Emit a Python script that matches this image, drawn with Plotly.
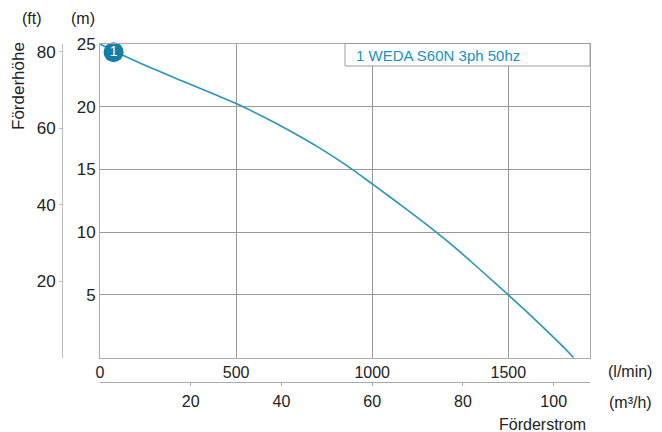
import plotly.graph_objects as go

# ---- data ----
flow_lpm = [0, 100, 200, 300, 400, 500, 600, 700, 800, 900, 1000, 1100, 1200,
            1300, 1400, 1500, 1600, 1700, 1740]
head_m = [25.0, 23.95, 22.98, 22.07, 21.18, 20.25, 19.2, 18.05, 16.8, 15.4, 13.85,
          12.25, 10.6, 8.85, 6.95, 5.0, 3.0, 0.9, 0.0]
marker_flow = [50]
marker_head = [24.35]
marker_label = ["1"]
series_name = "1 WEDA S60N 3ph 50hz"

x_ticks_lpm = [0, 500, 1000, 1500]
y_ticks_m = [5, 10, 15, 20, 25]
y_ticks_ft = [20, 40, 60, 80]
x_ticks_m3h = [20, 40, 60, 80, 100]

X_MAX_LPM = 1800
Y_MAX_M = 25
LPM_TO_M3H = 0.06
M_TO_FT = 3.28084

# ---- layout geometry ----
W, H = 662, 432
ML, MR, MT, MB = 62, 72, 44, 50
PW, PH = W - ML - MR, H - MT - MB


def px(x):
    return (x - ML) / PW


def py(y):
    return (H - MB - y) / PH


FONT = "Liberation Sans, Arial, Helvetica, sans-serif"
TXT = "#222222"
GRID = "#9a9a9a"
FRAME = "#aaaaaa"
LINE_C = "#2a94bd"
MARK_C = "#137ea6"

fig = go.Figure()
fig.add_trace(go.Scatter(x=flow_lpm, y=head_m, mode="lines", line_shape="spline",
                         line=dict(color=LINE_C, width=1.6, smoothing=1.0),
                         name=series_name, hoverinfo="skip", showlegend=False))
fig.add_trace(go.Scatter(x=marker_flow, y=marker_head, mode="markers+text",
                         text=marker_label, textposition="middle center",
                         textfont=dict(color="white", size=14, family=FONT),
                         marker=dict(size=20, color=MARK_C), cliponaxis=False,
                         hoverinfo="skip", showlegend=False))
# secondary axes carriers (converted units, invisible)
fig.add_trace(go.Scatter(x=[v * LPM_TO_M3H for v in flow_lpm],
                         y=[v * M_TO_FT for v in head_m],
                         xaxis="x2", yaxis="y2", mode="lines",
                         line=dict(width=0, color="rgba(0,0,0,0)"),
                         hoverinfo="skip", showlegend=False))

dom_x = [px(100), 1]
dom_y = [py(357.7), 1]

fig.update_layout(
    width=W, height=H,
    margin=dict(l=ML, r=MR, t=MT, b=MB, pad=0),
    paper_bgcolor="white", plot_bgcolor="white",
    font=dict(family=FONT, color=TXT, size=16),
    xaxis=dict(domain=dom_x, range=[0, X_MAX_LPM], tickvals=x_ticks_lpm,
               showgrid=True, gridcolor=GRID, gridwidth=1,
               showline=True, mirror=True, linecolor=FRAME, linewidth=1,
               ticks="", zeroline=False, anchor="y",
               tickfont=dict(size=16, color=TXT), fixedrange=True),
    yaxis=dict(domain=dom_y, range=[0, Y_MAX_M], tickvals=y_ticks_m,
               showgrid=True, gridcolor=GRID, gridwidth=1,
               showline=True, mirror=True, linecolor=FRAME, linewidth=1,
               ticks="", zeroline=False, anchor="x",
               tickfont=dict(size=17, color=TXT), fixedrange=True),
    xaxis2=dict(overlaying="x", anchor="free", position=0, side="bottom",
                range=[0, X_MAX_LPM * LPM_TO_M3H], tickvals=x_ticks_m3h,
                showgrid=False, zeroline=False, showline=True,
                linecolor=FRAME, linewidth=1, ticks="outside", ticklen=3,
                tickcolor=FRAME, tickfont=dict(size=16, color=TXT),
                ticklabelstandoff=2, fixedrange=True),
    yaxis2=dict(overlaying="y", anchor="free", position=0, side="left",
                range=[0, Y_MAX_M * M_TO_FT], tickvals=y_ticks_ft,
                showgrid=False, zeroline=False, showline=True,
                linecolor="#bbbbbb", linewidth=1, ticks="outside", ticklen=3,
                tickcolor="#bbbbbb", tickfont=dict(size=17, color=TXT),
                fixedrange=True),
    showlegend=False,
)

# legend box
fig.add_shape(type="rect", xref="paper", yref="paper",
              x0=px(345), x1=px(590), y0=py(66), y1=py(43.5),
              fillcolor="white", line=dict(color="#9a9a9a", width=1), layer="above")

ann = [
    dict(x=px(354), y=py(55), text=series_name, xanchor="left",
         font=dict(size=15, color="#2090bb")),
    dict(x=px(32), y=py(18), text="(ft)", xanchor="center", font=dict(size=16)),
    dict(x=px(83), y=py(18), text="(m)", xanchor="center", font=dict(size=16)),
    dict(x=px(19), y=py(86), text="Förderhöhe", textangle=-90, xanchor="center",
         font=dict(size=17)),
    dict(x=px(630), y=py(371), text="(l/min)", xanchor="center", font=dict(size=16)),
    dict(x=px(630), y=py(402), text="(m³/h)", xanchor="center", font=dict(size=16)),
    dict(x=px(542), y=py(424), text="Förderstrom", xanchor="center", font=dict(size=16)),
]
for a in ann:
    a.update(xref="paper", yref="paper", yanchor="middle", showarrow=False)
    fig.add_annotation(**a)

fig.write_html("out.html", config={"displayModeBar": False},
               post_script="document.body.style.margin='0';document.body.style.overflow='hidden';")
